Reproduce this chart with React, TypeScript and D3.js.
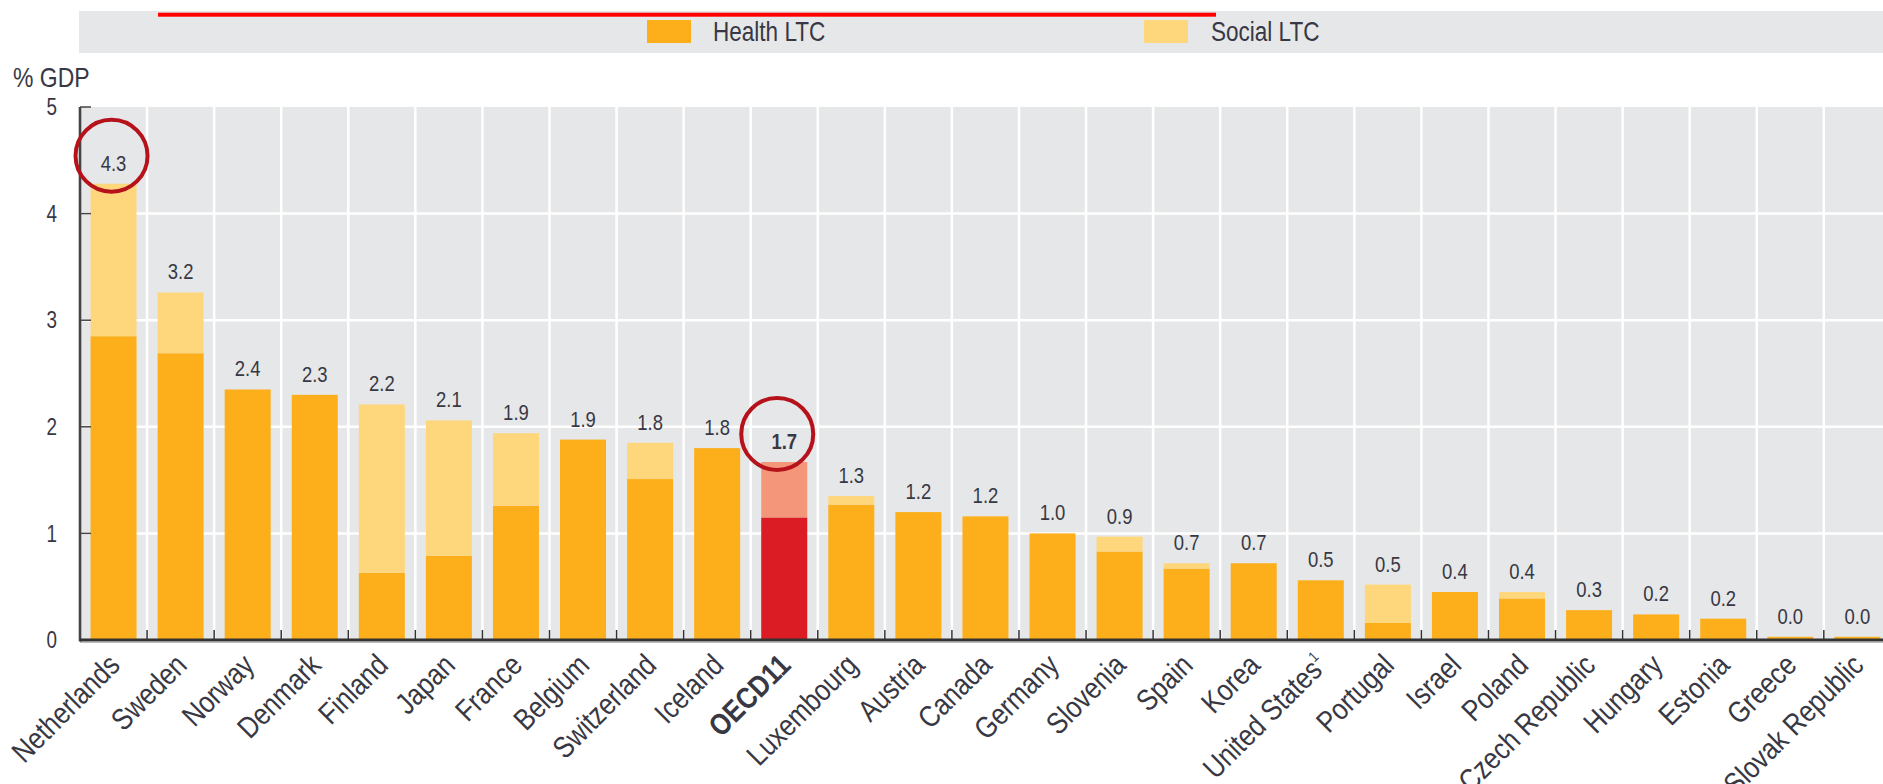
import React from "react";
import * as d3 from "d3";

const countries = [
  "Netherlands", "Sweden", "Norway", "Denmark", "Finland", "Japan", "France",
  "Belgium", "Switzerland", "Iceland", "OECD11", "Luxembourg", "Austria", "Canada",
  "Germany", "Slovenia", "Spain", "Korea", "United States", "Portugal", "Israel",
  "Poland", "Czech Republic", "Hungary", "Estonia", "Greece", "Slovak Republic",
];
const healthLTC = [
  2.85, 2.69, 2.35, 2.3, 0.63, 0.79, 1.26,
  1.88, 1.51, 1.8, 1.15, 1.27, 1.2, 1.16,
  1.0, 0.83, 0.67, 0.72, 0.56, 0.16, 0.45,
  0.39, 0.28, 0.24, 0.2, 0.03, 0.03,
];
const socialLTC = [
  1.43, 0.57, 0, 0, 1.58, 1.27, 0.68,
  0, 0.34, 0, 0.52, 0.08, 0, 0,
  0, 0.14, 0.05, 0, 0, 0.36, 0,
  0.06, 0, 0, 0, 0, 0,
];
const totalLabels = [
  "4.3", "3.2", "2.4", "2.3", "2.2", "2.1", "1.9",
  "1.9", "1.8", "1.8", "1.7", "1.3", "1.2", "1.2",
  "1.0", "0.9", "0.7", "0.7", "0.5", "0.5", "0.4",
  "0.4", "0.3", "0.2", "0.2", "0.0", "0.0",
];
const footnoted = ["United States"];
const highlighted = ["OECD11"];
const circled = ["Netherlands", "OECD11"];
const yTicks = [0, 1, 2, 3, 4, 5];
const seriesNames = ["Health LTC", "Social LTC"];

const FONT = "'Liberation Sans', Arial, sans-serif";
const TEXT = "#383844";
const C_HEALTH = "#fcaf1b";
const C_SOCIAL = "#fed77c";
const C_OECD_H = "#dc1c24";
const C_OECD_S = "#f4967a";
const BG = "#e6e7e8";

type NTProps = {
  x: number;
  y: number;
  rotate?: number;
  anchor?: "start" | "middle" | "end";
  size: number;
  bold?: boolean;
  dy?: string;
  narrow?: number;
  children: React.ReactNode;
};

function NText({ x, y, rotate = 0, anchor = "start", size, bold, dy, narrow = 0.82, children }: NTProps) {
  return (
    <text
      transform={`translate(${x},${y}) rotate(${rotate}) scale(${narrow},1)`}
      textAnchor={anchor}
      fontSize={size}
      fontWeight={bold ? "bold" : "normal"}
      fill={TEXT}
      dy={dy}
    >
      {children}
    </text>
  );
}

export default function App() {
  const W = 1883;
  const H = 784;
  const left = 80;
  const top = 107;
  const bottom = 640;
  const step = 67.07;
  const pi = 0.314;

  const x = d3
    .scaleBand<string>()
    .domain(countries)
    .range([left, left + step * countries.length])
    .paddingInner(pi)
    .paddingOuter(pi / 2);
  const y = d3.scaleLinear().domain([0, 5]).range([bottom, top]);
  const s = x.step();
  const bw = x.bandwidth();
  const boundaries = d3.range(1, countries.length + 1).map((k) => left + s * k);

  return (
    <svg
      width={W}
      height={H}
      style={{ position: "absolute", left: 0, top: 0, background: "#fff" }}
      fontFamily={FONT}
    >
      {/* legend band */}
      <rect x={79} y={11} width={W - 79} height={42} fill={BG} />
      <rect x={158} y={12.7} width={1216 - 158} height={4} fill="#ff0000" />
      <rect x={647} y={20} width={44} height={23} fill={C_HEALTH} />
      <NText x={713} y={41} size={27.5}>{seriesNames[0]}</NText>
      <rect x={1144} y={20} width={44} height={23} fill={C_SOCIAL} />
      <NText x={1211} y={41} size={27.5}>{seriesNames[1]}</NText>

      {/* y axis title */}
      <NText x={13} y={87} size={28}>% GDP</NText>

      {/* plot background */}
      <rect x={left} y={top} width={W - left} height={bottom - top} fill={BG} />
      {yTicks.slice(1, -1).map((t) => (
        <line key={"h" + t} x1={left} x2={W} y1={y(t)} y2={y(t)} stroke="#fff" strokeWidth={2.5} />
      ))}
      {boundaries.map((bx, i) => (
        <line key={"v" + i} x1={bx} x2={bx} y1={top} y2={bottom} stroke="#fff" strokeWidth={2.5} />
      ))}

      {/* bars */}
      {countries.map((c, i) => {
        const x0 = x(c)!;
        const hl = highlighted.includes(c);
        const h = healthLTC[i];
        const so = socialLTC[i];
        return (
          <g key={c}>
            <rect x={x0} y={y(h)} width={bw} height={y(0) - y(h)} fill={hl ? C_OECD_H : C_HEALTH} />
            {so > 0 && (
              <rect x={x0} y={y(h + so)} width={bw} height={y(h) - y(h + so)} fill={hl ? C_OECD_S : C_SOCIAL} />
            )}
            <NText x={x0 + bw / 2} y={y(h + so) - 13} anchor="middle" size={22} narrow={0.84} bold={hl}>
              {totalLabels[i]}
            </NText>
          </g>
        );
      })}

      {/* axes */}
      <line x1={left} x2={left} y1={top} y2={bottom + 1.5} stroke="#444" strokeWidth={2.6} />
      {yTicks.map((t) => (
        <g key={"yt" + t}>
          <line x1={left} x2={left + 11} y1={y(t)} y2={y(t)} stroke="#444" strokeWidth={1.5} />
          <NText x={57} y={y(t)} dy="0.36em" anchor="end" size={23}>{t}</NText>
        </g>
      ))}
      <line x1={left} x2={W} y1={bottom} y2={bottom} stroke="#333" strokeWidth={3} />
      <line x1={left} x2={W} y1={bottom + 2.5} y2={bottom + 2.5} stroke="#bbb" strokeWidth={1} />
      {boundaries.map((bx, i) => (
        <line key={"xt" + i} x1={bx} x2={bx} y1={bottom - 10} y2={bottom} stroke="#333" strokeWidth={1.5} />
      ))}

      {/* x labels */}
      {countries.map((c) => {
        const cx = x(c)! + bw / 2;
        const hl = highlighted.includes(c);
        return (
          <NText key={"xl" + c} x={cx + 8} y={667} rotate={-45} anchor="end" size={30} narrow={0.85} bold={hl}>
            {c}
            {footnoted.includes(c) && (
              <tspan fontSize={15} dy={-13}>1</tspan>
            )}
          </NText>
        );
      })}

      {/* annotation circles */}
      {countries.map((c, i) =>
        circled.includes(c) ? (
          <circle
            key={"ci" + c}
            cx={x(c)! + bw / 2 - (highlighted.includes(c) ? 7 : 2)}
            cy={y(healthLTC[i] + socialLTC[i]) - 28}
            r={36}
            fill="none"
            stroke="#b5121b"
            strokeWidth={4}
          />
        ) : null
      )}
    </svg>
  );
}
